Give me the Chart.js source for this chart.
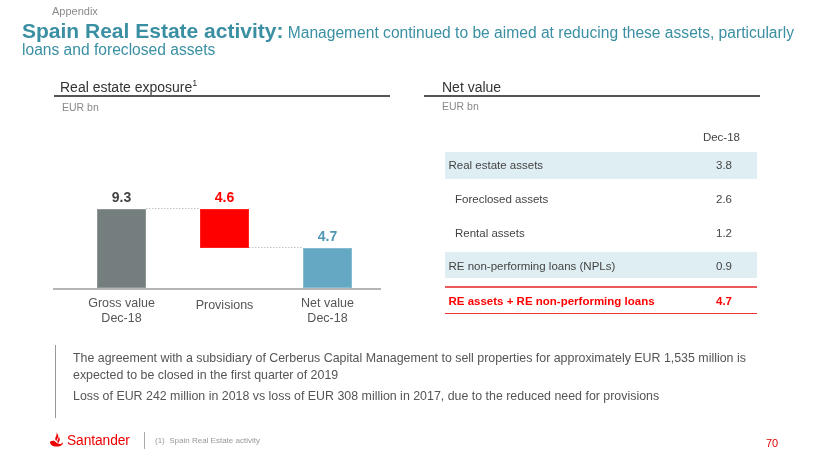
<!DOCTYPE html>
<html><head><meta charset="utf-8">
<script src="https://cdn.jsdelivr.net/npm/chart.js@4"></script>
<style>
html,body{margin:0;padding:0;}
body{width:840px;height:473px;overflow:hidden;background:#fff;position:relative;font-family:"Liberation Sans",Arial,sans-serif;}
.t{position:absolute;white-space:nowrap;line-height:1;}
.hl{position:absolute;background:#555;height:1.5px;}
</style></head><body>
<canvas id="c" width="840" height="473" style="position:absolute;left:0;top:0;width:840px;height:473px"></canvas>

<div class="t" style="left:52px;top:5.7px;font-size:11px;color:#8a8a8a">Appendix</div>
<div class="t" style="left:22px;top:20px;font-size:21px;color:#3A8FA3"><b>Spain Real Estate activity:</b><span style="font-size:15.6px"> Management continued to be aimed at reducing these assets, particularly</span></div>
<div class="t" style="left:22px;top:42px;font-size:15.6px;color:#3A8FA3">loans and foreclosed assets</div>

<div class="t" style="left:60px;top:79.5px;font-size:14px;color:#333">Real estate exposure<sup style="font-size:9px;vertical-align:6px;line-height:0">1</sup></div>
<div class="hl" style="left:54px;top:95.3px;width:336px"></div>
<div class="t" style="left:62px;top:102px;font-size:10.5px;color:#888">EUR bn</div>

<div class="t" style="left:442px;top:80px;font-size:14px;color:#333">Net value</div>
<div class="hl" style="left:424px;top:95.3px;width:336px"></div>
<div class="t" style="left:442px;top:100.6px;font-size:10.5px;color:#888">EUR bn</div>

<div id="table"></div>

<div style="position:absolute;left:54.5px;top:345px;width:1.3px;height:73px;background:#999"></div>
<div class="t" id="p1" style="left:73px;top:352.2px;font-size:12.4px;color:#555"></div>
<div class="t" id="p2" style="left:73px;top:368.8px;font-size:12.4px;color:#555"></div>
<div class="t" id="p3" style="left:73px;top:389.5px;font-size:12.4px;color:#555"></div>

<svg style="position:absolute;left:49px;top:432px" width="15" height="15" viewBox="0 0 15 15">
  <path d="M7.5 0.5 C9.5 3 10 4.5 8.2 7 C7.6 7.9 7.4 8.6 7.6 9.3 C6 8.2 5.8 6.5 6.8 4.8 C7.6 3.5 7.8 2 7.5 0.5Z" fill="#EC0000"/>
  <path d="M9.6 4.6 C11.2 6.5 11.2 8 9.9 9.8 C9.5 10.4 9.4 10.9 9.5 11.4 C8.2 10.6 8 9.2 8.8 7.8 C9.4 6.8 9.7 5.8 9.6 4.6Z" fill="#EC0000"/>
  <path d="M1 9.8 C2.5 8.7 4.5 8.3 5.8 9.2 C6.8 10 8.2 11.2 9.6 11.8 C11 12.3 12.6 12 14 10 C14 12.8 11.7 14.6 7.5 14.6 C3.3 14.6 1 12.8 1 9.8Z" fill="#EC0000"/>
</svg>
<div class="t" style="left:67px;top:434px;font-size:13.8px;color:#EC0000;letter-spacing:-0.1px">Santander</div>
<div style="position:absolute;left:144px;top:432px;width:1px;height:17px;background:#aaa"></div>
<div class="t" style="left:155px;top:436.5px;font-size:8px;color:#999">(1)&nbsp;&nbsp;Spain Real Estate activity</div>
<div class="t" style="left:766px;top:437.5px;font-size:11px;color:#E00000">70</div>

<script>
// ---- data ----
const categories = [["Gross value","Dec-18"],["Provisions"],["Net value","Dec-18"]];
const grossValue = 9.3;
const provisionsValue = 4.6;
const netValue = 4.7;
const valueLabels = ["9.3","4.6","4.7"];
const barColors = ["#757E7F","#FF0000","#64A8C4"];
const labelColors = ["#444444","#FF0000","#4F97B8"];

const tableHeader = "Dec-18";
const tableLabels = ["Real estate assets","Foreclosed assets","Rental assets","RE non-performing loans (NPLs)"];
const tableValues = ["3.8","2.6","1.2","0.9"];
const totalLabel = "RE assets + RE non-performing loans";
const totalValue = "4.7";

const notes = [
  "The agreement with a subsidiary of Cerberus Capital Management to sell properties for approximately EUR 1,535 million is",
  "expected to be closed in the first quarter of 2019",
  "Loss of EUR 242 million in 2018 vs loss of EUR 308 million in 2017, due to the reduced need for provisions"
];

// ---- notes ----
document.getElementById('p1').textContent = notes[0];
document.getElementById('p2').textContent = notes[1];
document.getElementById('p3').textContent = notes[2];

// ---- table ----
(function(){
  const t = document.getElementById('table');
  let h = '';
  h += '<div class="t" style="left:640px;width:100px;text-align:right;top:132.3px;font-size:11.5px;color:#444">'+tableHeader+'</div>';
  const baselines = [170, 204, 238, 271];
  const shaded = [true,false,false,true];
  const indent = [false,true,true,false];
  const bgTops = [152,0,0,252];
  const bgH = [27,0,0,26];
  for (let i=0;i<tableLabels.length;i++){
    if (shaded[i]) h += '<div style="position:absolute;left:445px;width:312px;top:'+bgTops[i]+'px;height:'+bgH[i]+'px;background:#DFEEF3"></div>';
    h += '<div class="t" style="left:'+(indent[i]?455:448.5)+'px;top:'+(baselines[i]-9.73)+'px;font-size:11.5px;color:#444">'+tableLabels[i]+'</div>';
    h += '<div class="t" style="left:632px;width:100px;text-align:right;top:'+(baselines[i]-9.73)+'px;font-size:11.5px;color:#444">'+tableValues[i]+'</div>';
  }
  h += '<div style="position:absolute;left:445px;width:312px;top:285.8px;height:1.8px;background:#EE5A5A"></div>';
  h += '<div class="t" style="left:448.5px;top:'+(306-9.73)+'px;font-size:11.5px;font-weight:bold;color:#FF0000">'+totalLabel+'</div>';
  h += '<div class="t" style="left:632px;width:100px;text-align:right;top:'+(306-9.73)+'px;font-size:11.5px;font-weight:bold;color:#FF0000">'+totalValue+'</div>';
  h += '<div style="position:absolute;left:445px;width:312px;top:313px;height:1.2px;background:#E33"></div>';
  t.innerHTML = h;
})();

// ---- chart ----
const floating = [[0, grossValue],[grossValue - provisionsValue, grossValue],[0, netValue]];

const waterfallPlugin = {
  id: 'waterfall',
  beforeDatasetsDraw(chart){
    const ctx = chart.ctx;
    const y = chart.scales.y;
    ctx.save();
    ctx.strokeStyle = '#B5B5B5';
    ctx.lineWidth = 2;
    ctx.beginPath();
    ctx.moveTo(53, y.getPixelForValue(0)+1);
    ctx.lineTo(381, y.getPixelForValue(0)+1);
    ctx.stroke();
    // connectors
    const meta = chart.getDatasetMeta(0);
    ctx.strokeStyle = '#C4C4C4';
    ctx.lineWidth = 1;
    ctx.setLineDash([1.5,1.5]);
    for (let i=0;i<meta.data.length-1;i++){
      const a = meta.data[i], b = meta.data[i+1];
      const level = (i===0) ? floating[0][1] : floating[1][0];
      const py = Math.round(y.getPixelForValue(level))-0.5;
      ctx.beginPath();
      ctx.moveTo(a.x + a.width/2, py);
      ctx.lineTo(b.x - b.width/2, py);
      ctx.stroke();
    }
    ctx.restore();
  },
  afterDatasetsDraw(chart){
    const ctx = chart.ctx;
    const meta = chart.getDatasetMeta(0);
    const y = chart.scales.y;
    ctx.save();
    ctx.textAlign = 'center';
    ctx.textBaseline = 'alphabetic';
    meta.data.forEach((bar, i) => {
      const top = y.getPixelForValue(floating[i][1]);
      ctx.font = 'bold 14px "Liberation Sans", Arial, sans-serif';
      ctx.fillStyle = labelColors[i];
      ctx.fillText(valueLabels[i], bar.x, top - 7);
      ctx.font = '12.5px "Liberation Sans", Arial, sans-serif';
      ctx.fillStyle = '#555';
      const lines = categories[i];
      if (lines.length === 1) {
        ctx.fillText(lines[0], bar.x, 309.3);
      } else {
        ctx.fillText(lines[0], bar.x, 307);
        ctx.fillText(lines[1], bar.x, 321.7);
      }
    });
    ctx.restore();
  }
};

new Chart(document.getElementById('c'), {
  type: 'bar',
  data: {
    labels: categories.map(c => c.join(' ')),
    datasets: [{
      data: floating,
      backgroundColor: barColors,
      borderColor: ["#8E9696","#FF2020","#86BCD3"],
      borderWidth: 1,
      borderSkipped: false,
      barPercentage: 0.476,
      categoryPercentage: 1
    }]
  },
  options: {
    responsive: false,
    animation: false,
    layout: { padding: { left: 70, right: 461, top: 186, bottom: 185 } },
    plugins: { legend: { display: false }, tooltip: { enabled: false } },
    scales: {
      x: { display: false, offset: true, grid: { display: false } },
      y: { display: false, min: 0, max: 12 }
    }
  },
  plugins: [waterfallPlugin]
});
</script>
</body></html>
